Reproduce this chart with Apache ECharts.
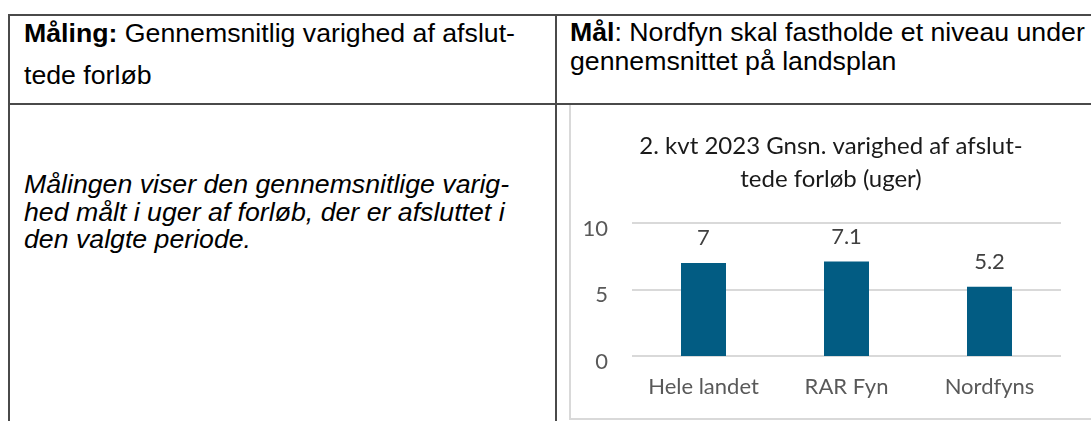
<!DOCTYPE html>
<html>
<head>
<meta charset="utf-8">
<script src="https://cdn.jsdelivr.net/npm/echarts@6/dist/echarts.min.js"></script>
<style>
  html, body { margin: 0; padding: 0; background: #fff; }
  body { width: 1091px; height: 421px; position: relative; overflow: hidden;
         font-family: "Liberation Sans", Arial, sans-serif; color: #000; }
  .line { position: absolute; background: #4a4a4a; }
  .txt { position: absolute; font-size: 26.7px; white-space: nowrap; }
  #chart { position: absolute; left: 569px; top: 105px; width: 520px; height: 313px;
           border: 2px solid #d9d9d9; border-top: none; box-sizing: content-box; }
</style>
</head>
<body>
  <!-- table grid -->
  <div class="line" style="left:8px; top:14px; width:1083px; height:2px;"></div>
  <div class="line" style="left:8px; top:103px; width:1083px; height:2px;"></div>
  <div class="line" style="left:8px; top:14px; width:2px; height:407px;"></div>
  <div class="line" style="left:555px; top:14px; width:2px; height:407px;"></div>

  <div class="txt" style="left:24px; top:12px; line-height:42px;"><b>Måling:</b> Gennemsnitlig varighed af afslut-<br>tede forløb</div>
  <div class="txt" style="left:570px; top:18px; line-height:29px;"><b>Mål</b>: Nordfyn skal fastholde et niveau under<br>gennemsnittet på landsplan</div>
  <div class="txt" style="left:24px; top:171px; line-height:27.5px; font-style:italic;">Målingen viser den gennemsnitlige varig-<br>hed målt i uger af forløb, der er afsluttet i<br>den valgte periode.</div>

  <div id="chart"></div>

<script>
// chart data
const chartTitle = '2. kvt 2023 Gnsn. varighed af afslut-\ntede forløb (uger)';
const categories = ['Hele landet', 'RAR Fyn', 'Nordfyns'];
const values = [7, 7.1, 5.2];
const yMin = 0;
const yMax = 10;
const yStep = 5;

const chart = echarts.init(document.getElementById('chart'), null, { renderer: 'canvas' });

const font = 'Lato, "Open Sans", sans-serif';

chart.setOption({
  animation: false,
  title: {
    text: chartTitle,
    left: 'center',
    top: 25,
    padding: 0,
    textStyle: {
      fontFamily: font,
      fontWeight: 'normal',
      fontSize: 24,
      lineHeight: 33,
      color: '#1a1a1a',
    },
  },
  grid: {
    left: 61,
    right: 30,
    top: 118,
    bottom: 62,
    containLabel: false,
  },
  xAxis: {
    type: 'category',
    data: categories,
    axisLine: { show: false },
    axisTick: { show: false },
    axisLabel: {
      interval: 0,
      fontFamily: font,
      fontSize: 22,
      color: '#595959',
      margin: 20,
    },
  },
  yAxis: {
    type: 'value',
    min: yMin,
    max: yMax,
    interval: yStep,
    axisLine: { show: false },
    axisTick: { show: false },
    axisLabel: {
      fontFamily: font,
      fontSize: 22,
      color: '#595959',
      margin: 24,
      verticalAlign: 'top',
      lineHeight: 11,
    },
    splitLine: {
      lineStyle: { color: '#d9d9d9', width: 2 },
    },
  },
  series: [
    {
      type: 'bar',
      data: values,
      barWidth: 45,
      itemStyle: { color: '#025c83' },
      label: {
        show: true,
        position: 'top',
        distance: 14,
        fontFamily: font,
        fontSize: 22,
        color: '#404040',
      },
    },
  ],
});
</script>
</body>
</html>
